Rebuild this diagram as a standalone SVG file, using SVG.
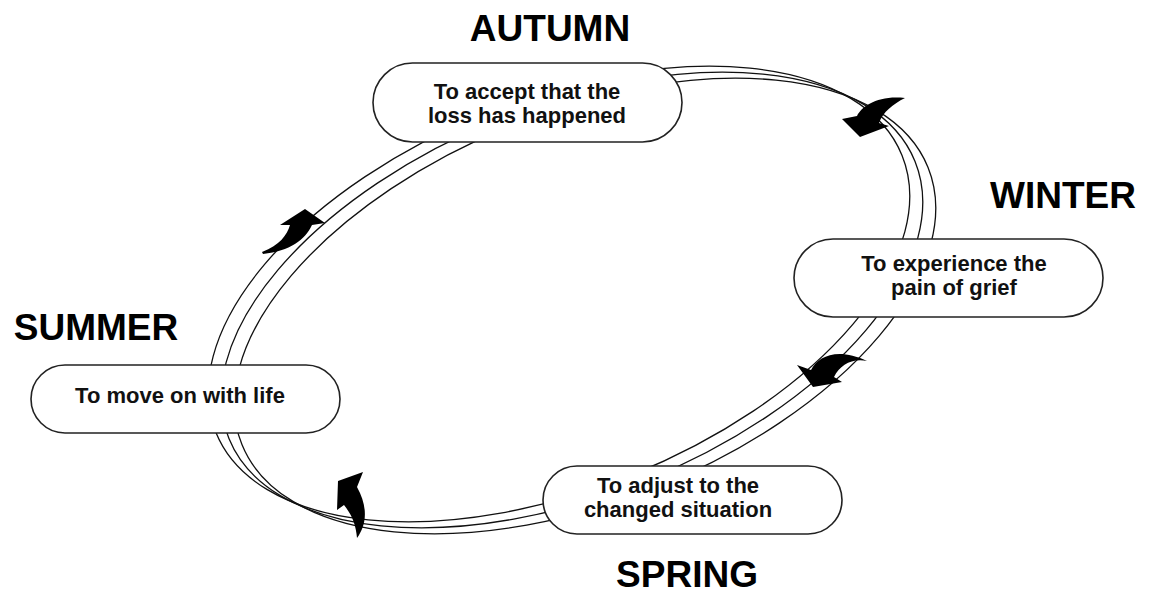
<svg xmlns="http://www.w3.org/2000/svg" width="1151" height="593" viewBox="0 0 1151 593">
<style>
.strand{fill:none;stroke:#111;stroke-width:1.3}
.node rect{fill:#fff;stroke:#222;stroke-width:1.6}
.lbl{font-family:"Liberation Sans",Arial,sans-serif;font-weight:bold;font-size:22px;fill:#111;text-anchor:middle}
.season{font-family:"Liberation Sans",Arial,sans-serif;font-weight:bold;font-size:37px;fill:#000;text-anchor:middle}
.arrow{fill:#000;stroke:none}
</style>
<rect width="1151" height="593" fill="#fff"/>
<g id="connectors">
<ellipse class="strand" cx="559" cy="294" rx="370" ry="195" transform="rotate(-22 559 294)"/>
<ellipse class="strand" cx="572" cy="300" rx="370" ry="195" transform="rotate(-22 572 300)"/>
<ellipse class="strand" cx="585" cy="306" rx="370" ry="195" transform="rotate(-22 585 306)"/>
<path class="arrow" d="M842,119 L857,116 C862,106 878,95 905,98 C893,104 883,112 879,123 L889,126 L860,137 Z"/>
<path class="arrow" d="M797,365 L811,370 C818,356 838,347 867,361 C852,358 840,365 834,377 L842,382 L813,387 Z"/>
<path class="arrow" d="M363,472 L338,481 L337,510 L344,505 C352,515 356,525 357,538 C367,524 368,507 357,487 Z"/>
<path class="arrow" d="M305,209 L325,223 L312,225 C305,240 290,251 263,254 L262,252 C280,245 287,235 290,225 L280,225 Z"/>
</g>
<g id="autumn" class="node">
<rect x="373" y="63" width="309" height="79" rx="39.5"/>
<text class="lbl" x="527" y="99">To accept that the</text>
<text class="lbl" x="527" y="123">loss has happened</text>
</g>
<g id="winter" class="node">
<rect x="794" y="239" width="309" height="78" rx="39"/>
<text class="lbl" x="954" y="271">To experience the</text>
<text class="lbl" x="954" y="295">pain of grief</text>
</g>
<g id="summer" class="node">
<rect x="31" y="365" width="309" height="68" rx="34"/>
<text class="lbl" x="180" y="403">To move on with life</text>
</g>
<g id="spring" class="node">
<rect x="543" y="466" width="299" height="68" rx="34"/>
<text class="lbl" x="678" y="493">To adjust to the</text>
<text class="lbl" x="678" y="517">changed situation</text>
</g>
<g id="season-labels">
<text class="season" x="550" y="41">AUTUMN</text>
<text class="season" x="1063" y="208">WINTER</text>
<text class="season" x="96" y="340">SUMMER</text>
<text class="season" x="687" y="587">SPRING</text>
</g>
</svg>
